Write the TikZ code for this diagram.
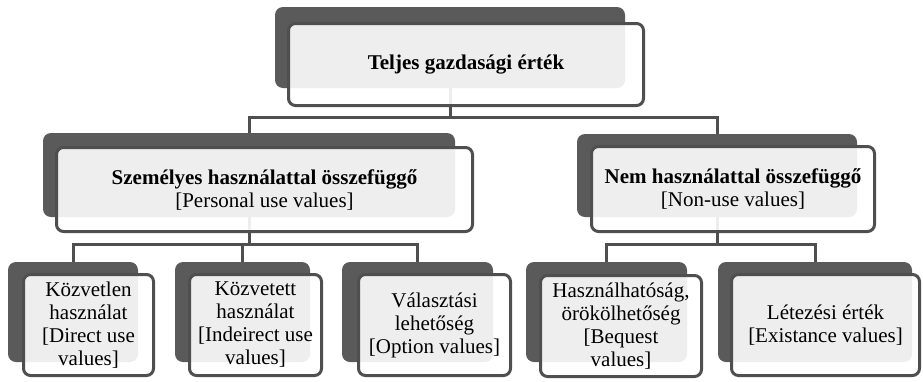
\documentclass[tikz,border=0pt]{standalone}
\usepackage{fontspec}
\setmainfont{Liberation Serif}
\pgfdeclarelayer{bg}
\pgfsetlayers{bg,main}
\definecolor{darkback}{HTML}{5A5A5A}
\definecolor{edgegray}{HTML}{4F4F4F}
\begin{document}
\begin{tikzpicture}[x=1pt,y=-1pt,
  back/.style={draw=none, fill=darkback, rounded corners=8pt, inner sep=0pt},
  front/.style={draw=edgegray, line width=3pt, fill=white, fill opacity=0.9, text opacity=1,
    rounded corners=7pt, inner sep=0pt, align=center, font=\fontsize{21}{23}\selectfont},
  link/.style={draw=edgegray, line width=3pt}]
\useasboundingbox (0,0) rectangle (923,381);
% back boxes
\node[back, minimum width=350pt, minimum height=81pt] (tb) at (450,47.5) {};
\node[back, minimum width=412pt, minimum height=84pt] (mlb) at (249,175) {};
\node[back, minimum width=280pt, minimum height=83pt] (mrb) at (717,175.5) {};
\node[back, minimum width=130pt, minimum height=100pt] (b1b) at (73,312) {};
\node[back, minimum width=135pt, minimum height=100pt] (b2b) at (242.5,312) {};
\node[back, minimum width=151pt, minimum height=100pt] (b3b) at (417.5,312) {};
\node[back, minimum width=161pt, minimum height=100pt] (b4b) at (606.5,312) {};
\node[back, minimum width=194pt, minimum height=100pt] (b5b) at (815,312) {};
% connectors
\coordinate (bus1) at (0,117);
\coordinate (bus2) at (0,244);
\begin{pgfonlayer}{bg}
\draw[link] (tb.south) -- (tb.south |- bus1) -| (mlb.north);
\draw[link] (tb.south |- bus1) -| (mrb.north);
\draw[link] (mlb.south) -- (mlb.south |- bus2) -| (b1b.north);
\draw[link] (mlb.south |- bus2) -| (b2b.north);
\draw[link] (mlb.south |- bus2) -| (b3b.north);
\draw[link] (mrb.south) -- (mrb.south |- bus2) -| (b4b.north);
\draw[link] (mrb.south |- bus2) -| (b5b.north);
\end{pgfonlayer}
% front boxes
\node[front, minimum width=355pt, minimum height=82pt] (tf) at (466,64.5) {\textbf{Teljes gazdasági érték}};
\node[front, minimum width=416pt, minimum height=84pt] (mlf) at (264.5,189.5) {\textbf{Személyes használattal összefüggő}\\{}[Personal use values]};
\node[front, minimum width=283pt, minimum height=85pt] (mrf) at (733,189) {\textbf{Nem használattal összefüggő}\\{}[Non-use values]};
\node[front, minimum width=130pt, minimum height=101pt] (b1f) at (88.5,325) {Közvetlen\\használat\\{}[Direct use\\values]};
\node[front, minimum width=132pt, minimum height=101pt] (b2f) at (255.5,325) {Közvetett\\használat\\{}[Indeirect use\\values]};
\node[front, minimum width=152pt, minimum height=101pt] (b3f) at (434.5,325) {Választási\\lehetőség\\{}[Option values]};
\node[front, minimum width=161pt, minimum height=101pt] (b4f) at (621,326) {Használhatóság,\\örökölhetőség\\{}[Bequest\\values]};
\node[front, minimum width=188pt, minimum height=101pt] (b5f) at (825.5,325) {Létezési érték\\{}[Existance values]};
\end{tikzpicture}
\end{document}
